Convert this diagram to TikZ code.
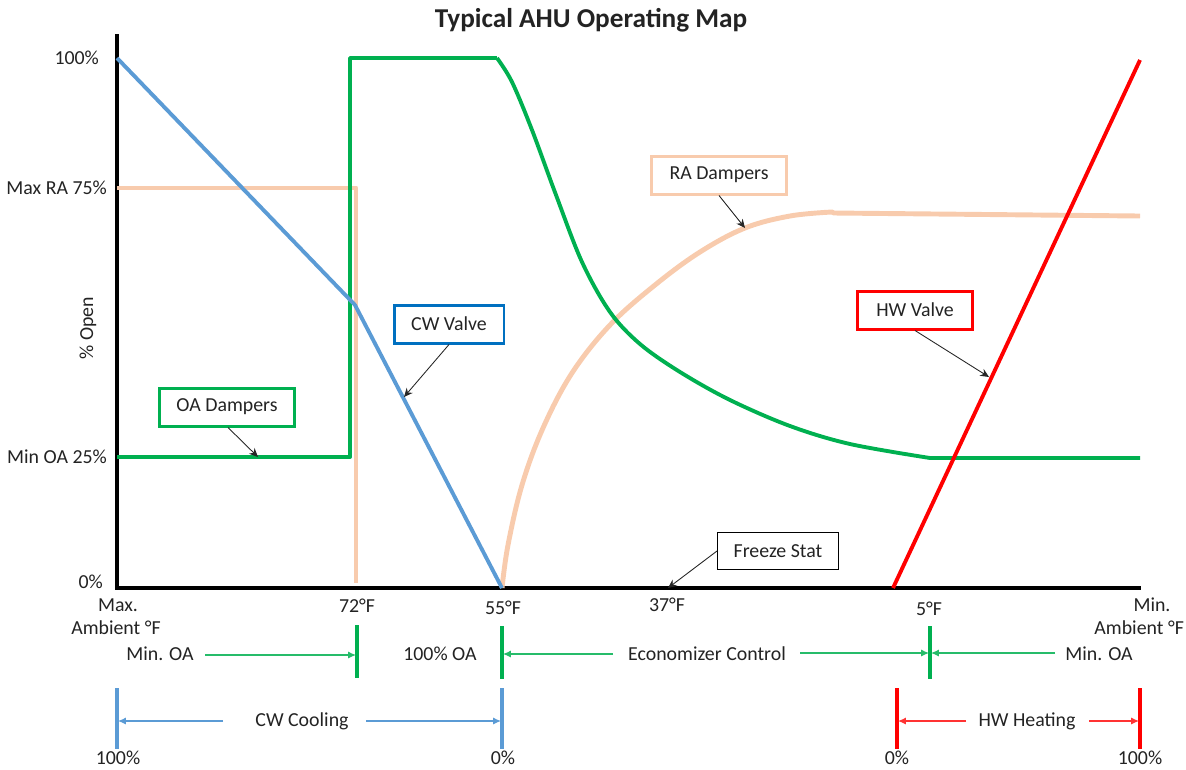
\documentclass[tikz,border=0pt]{standalone}
\usepackage{fontspec}
\setmainfont{Carlito}
\usetikzlibrary{arrows.meta}
\definecolor{cgreen}{RGB}{0,176,80}
\definecolor{cblue}{RGB}{91,155,213}
\definecolor{cbox}{RGB}{0,112,192}
\definecolor{cpeach}{RGB}{248,203,173}
\definecolor{cred}{RGB}{255,0,0}
\definecolor{ctext}{RGB}{35,35,35}
\begin{document}
\begin{tikzpicture}[x=0.02cm,y=-0.02cm,
  lbl/.style={font=\fontsize{11.3}{13}\selectfont, text=ctext, inner sep=1pt},
  callout/.style={lbl, draw, line width=1.7pt, minimum height=0.76cm, inner xsep=6pt},
  pointer/.style={-{Stealth[length=5pt,width=4.5pt]}, line width=0.5pt, black!85},
  dataline/.style={line width=2.2pt, line join=round},
  tickmark/.style={line width=1.8pt},
  span/.style={line width=0.6pt, -{Latex[length=4.5pt,width=4pt]}}
]
\useasboundingbox (0,0) rectangle (1186,769);
% title
\node[font=\fontsize{15.5}{18}\selectfont\bfseries, text=ctext] (title) at (591,20) {Typical AHU Operating Map};
% axes
\coordinate (o) at (117,588);
\coordinate (ytop) at (117,34);
\coordinate (xend) at (1141,588);
\draw[line width=2.4pt] (ytop) -- (o) -- (xend);
% y labels
\node[lbl, anchor=east] (y100) at (101,58) {100\%};
\node[lbl, anchor=east] (y75) at (109,188) {Max RA 75\%};
\node[lbl, anchor=east] (y25) at (109,457) {Min OA 25\%};
\node[lbl, anchor=east] (y0) at (105,582) {0\%};
\node[lbl, rotate=90] (yt) at (88,328) {\% Open};
% x labels
\node[lbl] (xmax1) at (118,605) {Max.};
\node[lbl] (xmax2) at (116,628) {Ambient °F};
\node[lbl] (x72) at (357,606) {72°F};
\node[lbl] (x55) at (503,608) {55°F};
\node[lbl] (x37) at (667,605) {37°F};
\node[lbl] (x5) at (929,609) {5°F};
\node[lbl] (xmin1) at (1152,605) {Min.};
\node[lbl, anchor=east] (xmin2) at (1186,628) {Ambient °F};

% RA dampers (peach)
\coordinate (ra1) at (117,188);
\coordinate (ra2) at (356,188);
\coordinate (ra3) at (356,583);
\draw[dataline, cpeach, line width=2.8pt] (ra1) -- (ra2) -- (ra3);
\coordinate (rastart) at (502,588);
\coordinate (raknee) at (832,212);
\coordinate (raend) at (1140,216);
\coordinate (rapt) at (745,228);
\draw[dataline, cpeach, line width=2.8pt] plot[smooth, tension=0.6] coordinates {(502,588) (508,545) (522,485) (543,428) (572,373) (610,325) (655,285) (700,252) (745,228) (790,216) (832,212)} -- (834,213) -- (raend);

% OA dampers (green)
\coordinate (oa1) at (117,457);
\coordinate (oa2) at (350,457);
\coordinate (oa3) at (350,58);
\coordinate (oa4) at (497,58);
\coordinate (oapt) at (258,457);
\draw[dataline, cgreen] (oa1) -- (oa2) -- (oa3) -- (oa4);
\draw[dataline, cgreen] plot[smooth, tension=0.55] coordinates {(497,58) (512,82) (532,130) (556,195) (582,262) (610,312) (640,344) (680,372) (730,400) (790,426) (850,444) (930,458)} -- (1140,458);

% CW valve (blue)
\coordinate (cw1) at (117,58);
\coordinate (cw2) at (355,305);
\coordinate (cw3) at (502,588);
\coordinate (cwpt) at (404,397);
\draw[dataline, cblue] (cw1) -- (cw2) -- (cw3);

% HW valve (red)
\coordinate (hw1) at (893,588);
\coordinate (hw2) at (1140,60);
\coordinate (hwpt) at (989,377);
\draw[dataline, cred] (hw1) -- (hw2);

% freeze stat point
\coordinate (fspt) at (668,588);

% callouts
\node[callout, draw=cgreen, minimum width=2.7cm] (oab) at (227,407) {OA Dampers};
\node[callout, draw=cbox, minimum width=2.2cm] (cwb) at (449,324) {CW Valve};
\node[callout, draw=cpeach, minimum width=2.7cm] (rab) at (719,175) {RA Dampers};
\node[callout, draw=cred, minimum width=2.3cm] (hwb) at (915,310) {HW Valve};
\node[lbl, draw=black, line width=0.6pt, minimum width=2.42cm, minimum height=0.74cm] (fsb) at (778,551) {Freeze Stat};

\draw[pointer] (oab.south) ++(1,0) -- (oapt);
\draw[pointer] (cwb.south) -- (cwpt);
\draw[pointer] (rab.south) -- (rapt);
\draw[pointer] (hwb.south) -- (hwpt);
\draw[pointer] (fsb.west) -- (fspt);

% OA control row
\coordinate (g72t) at (357,625); \coordinate (g72b) at (357,678);
\coordinate (g55t) at (502,626); \coordinate (g55b) at (502,679);
\coordinate (g5t) at (930,626); \coordinate (g5b) at (930,679);
\draw[tickmark, cgreen] (g72t) -- (g72b);
\draw[tickmark, cgreen] (g55t) -- (g55b);
\draw[tickmark, cgreen] (g5t) -- (g5b);
\node[lbl] (minoa1) at (160,654) {Min. OA};
\node[lbl] (oa100) at (440,654) {100\% OA};
\node[lbl] (econ) at (707,654) {Economizer Control};
\node[lbl] (minoa2) at (1099,654) {Min. OA};
\coordinate (a1s) at (205,655); \coordinate (a1e) at (356,655);
\coordinate (a2s) at (613,654); \coordinate (a2e) at (503,654);
\coordinate (a3s) at (800,653); \coordinate (a3e) at (929,653);
\coordinate (a4s) at (1055,653); \coordinate (a4e) at (931,653);
\draw[span, cgreen!85] (a1s) -- (a1e);
\draw[span, cgreen!85] (a2s) -- (a2e);
\draw[span, cgreen!85] (a3s) -- (a3e);
\draw[span, cgreen!85] (a4s) -- (a4e);

% CW cooling row
\coordinate (b1t) at (117,688); \coordinate (b1b) at (117,749);
\coordinate (b2t) at (502,688); \coordinate (b2b) at (502,749);
\draw[tickmark, cblue] (b1t) -- (b1b);
\draw[tickmark, cblue] (b2t) -- (b2b);
\node[lbl] (cwc) at (302,721) {CW Cooling};
\coordinate (b3s) at (223,721); \coordinate (b3e) at (118,721);
\coordinate (b4s) at (366,721); \coordinate (b4e) at (501,721);
\draw[span, cblue] (b3s) -- (b3e);
\draw[span, cblue] (b4s) -- (b4e);
\node[lbl] (c100) at (118,758) {100\%};
\node[lbl] (c0) at (503,758) {0\%};

% HW heating row
\coordinate (r1t) at (897,688); \coordinate (r1b) at (897,749);
\coordinate (r2t) at (1140,688); \coordinate (r2b) at (1140,749);
\draw[tickmark, cred] (r1t) -- (r1b);
\draw[tickmark, cred] (r2t) -- (r2b);
\node[lbl] (hwh) at (1027,721) {HW Heating};
\coordinate (r3s) at (966,721); \coordinate (r3e) at (898,721);
\coordinate (r4s) at (1089,721); \coordinate (r4e) at (1139,721);
\draw[span, cred!80] (r3s) -- (r3e);
\draw[span, cred!80] (r4s) -- (r4e);
\node[lbl] (h0) at (897,758) {0\%};
\node[lbl] (h100) at (1140,758) {100\%};
\end{tikzpicture}
\end{document}
